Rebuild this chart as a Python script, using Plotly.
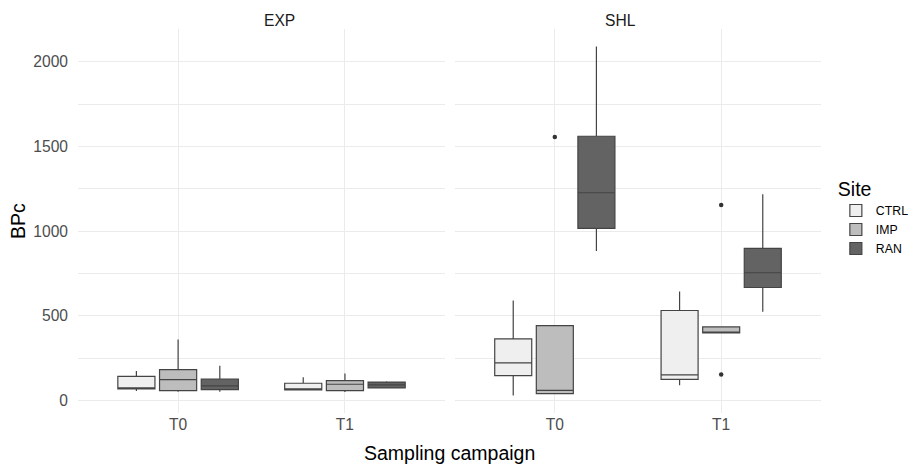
import plotly.graph_objects as go

campaigns = ["T0", "T1"]
sites = ["CTRL", "IMP", "RAN"]
panels = ["EXP", "SHL"]

# Box statistics per panel, site: [T0, T1]
stats = {
    "EXP": {
        "CTRL": dict(lf=[55, 62], q1=[68, 62], med=[73, 68], q3=[142, 101], uf=[173, 136]),
        "IMP":  dict(lf=[50, 49], q1=[57, 57], med=[122, 95], q3=[182, 116], uf=[359, 158]),
        "RAN":  dict(lf=[51, 72], q1=[63, 73], med=[85, 91], q3=[126, 108], uf=[205, 112]),
    },
    "SHL": {
        "CTRL": dict(lf=[28, 89], q1=[146, 124], med=[221, 150], q3=[363, 531], uf=[590, 643]),
        "IMP":  dict(lf=[40, 398], q1=[40, 398], med=[59, 402], q3=[442, 434], uf=[442, 434]),
        "RAN":  dict(lf=[882, 523], q1=[1016, 667], med=[1227, 754], q3=[1561, 898], uf=[2092, 1218]),
    },
}

# Outliers (SHL panel, IMP site)
out_x = ["T0", "T1", "T1"]
out_y = [1557, 1154, 152]

fills = {"CTRL": "#EFEFEF", "IMP": "#BDBDBD", "RAN": "#636363"}
line_col = "#444444"
font_fam = "Liberation Sans, Arial, sans-serif"

fig = go.Figure()
for pi, panel in enumerate(panels):
    xa = "x" if pi == 0 else "x2"
    for s in sites:
        st = stats[panel][s]
        fig.add_trace(go.Box(
            x=campaigns, q1=st["q1"], median=st["med"], q3=st["q3"],
            lowerfence=st["lf"], upperfence=st["uf"],
            name=s, legendgroup=s, showlegend=(pi == 0), offsetgroup=s,
            fillcolor=fills[s], line=dict(color=line_col, width=1.2),
            whiskerwidth=0, boxpoints=False,
            xaxis=xa, yaxis="y",
        ))

fig.add_trace(go.Scatter(
    x=out_x, y=out_y, mode="markers", xaxis="x2", yaxis="y",
    marker=dict(color="#333333", size=4.5), showlegend=False, hoverinfo="skip",
))

grid = "#EBEBEB"
xcommon = dict(type="category", categoryorder="array", categoryarray=campaigns,
               range=[-0.6, 1.6], showgrid=True, gridcolor=grid, gridwidth=1,
               zeroline=False, showline=False, ticks="",
               tickfont=dict(size=15.6, color="#4D4D4D", family=font_fam),
               ticklabelstandoff=0)

fig.update_layout(
    width=918, height=466,
    margin=dict(l=78, r=97, t=29, b=53, autoexpand=False),
    plot_bgcolor="white", paper_bgcolor="white",
    boxmode="group", boxgap=0.25, boxgroupgap=0.11,
    font=dict(family=font_fam),
    xaxis=dict(domain=[0, 0.494], anchor="y", **xcommon),
    xaxis2=dict(domain=[0.5074, 1], anchor="y", **xcommon),
    yaxis=dict(range=[-75, 2195], tickvals=[0, 500, 1000, 1500, 2000],
               showgrid=True, gridcolor=grid, gridwidth=1,
               minor=dict(tickvals=[250, 750, 1250, 1750], showgrid=True,
                          gridcolor=grid, gridwidth=0.6),
               zeroline=False, showline=False, ticks="",
               tickfont=dict(size=15.6, color="#4D4D4D", family=font_fam),
               ticklabelstandoff=9),
    legend=dict(title=dict(text="Site", font=dict(size=19.5, color="black")),
                font=dict(size=12.3, color="black"),
                x=1.02, xanchor="left", y=0.51, yanchor="middle",
                tracegroupgap=0, itemwidth=30),
    annotations=[
        dict(text="EXP", x=0.247, y=1.0, xref="paper", yref="paper",
             yanchor="bottom", yshift=-2, showarrow=False,
             font=dict(size=15.6, color="#1A1A1A")),
        dict(text="SHL", x=0.7537, y=1.0, xref="paper", yref="paper",
             yanchor="bottom", yshift=-2, showarrow=False,
             font=dict(size=15.6, color="#1A1A1A")),
        dict(text="Sampling campaign", x=0.5, y=0, xref="paper", yref="paper",
             yanchor="top", yshift=-27, showarrow=False,
             font=dict(size=19.5, color="black")),
        dict(text="BPc", x=0, y=0.5, xref="paper", yref="paper",
             xanchor="center", xshift=-60, textangle=-90, showarrow=False,
             font=dict(size=19.5, color="black")),
    ],
)

fig.write_html("out.html")
